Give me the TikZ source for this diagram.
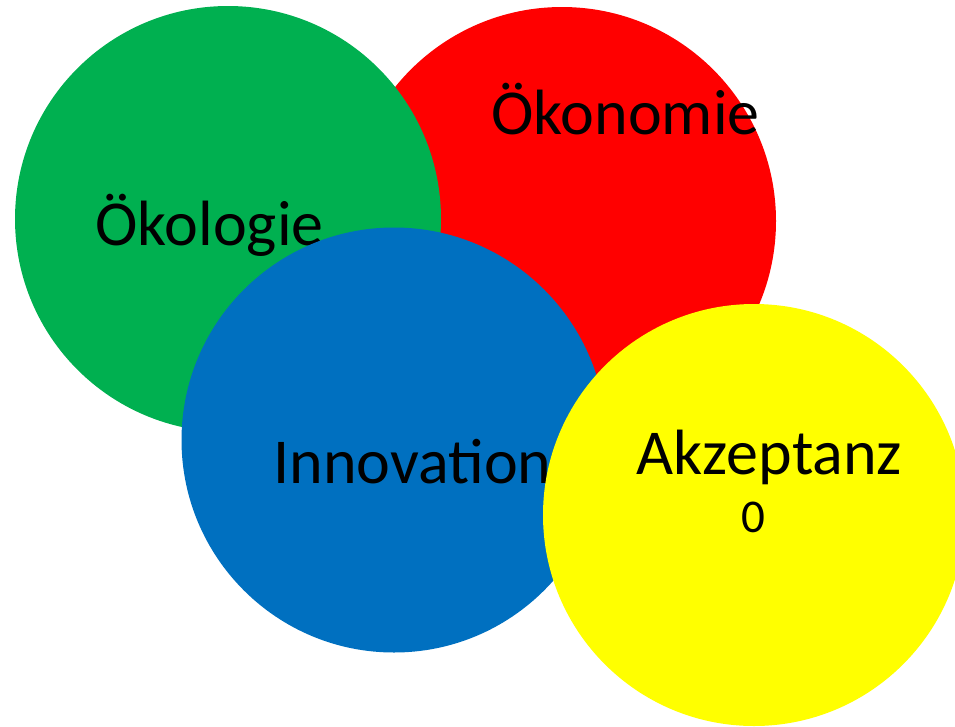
\documentclass[tikz,border=0pt]{standalone}
\usepackage{fontspec}
\setmainfont{Carlito}
\usepackage{tikz}
\definecolor{okogreen}{HTML}{00B050}
\definecolor{okored}{HTML}{FF0000}
\definecolor{okoblue}{HTML}{0070C0}
\definecolor{okoyellow}{HTML}{FFFF00}
\begin{document}
\begin{tikzpicture}[x=1pt,y=-1pt,
  ball/.style={circle,inner sep=0pt,minimum size=#1},
  word/.style={anchor=base,inner sep=0pt,font=\fontsize{64}{77}\selectfont}]
\useasboundingbox(0,0)rectangle(955,726);
\node[ball=428pt,fill=okored](R)at(562,221){};
\node[word](Rt)at(625.5,134){Ökonomie};
\node[ball=426pt,fill=okogreen](G)at(228,219){};
\node[word](Gt)at(209.5,245){Ökologie};
\node[ball=425pt,fill=okoblue](B)at(394,440){};
\node[word](Bt)at(412.5,483){Innovation};
\node[ball=422pt,fill=okoyellow](Y)at(754,515){};
\node[word](Yt)at(769.5,474){Akzeptanz};
\node[word,font=\fontsize{47}{56}\selectfont](Y0)at(753.5,532){0};
\end{tikzpicture}
\end{document}
